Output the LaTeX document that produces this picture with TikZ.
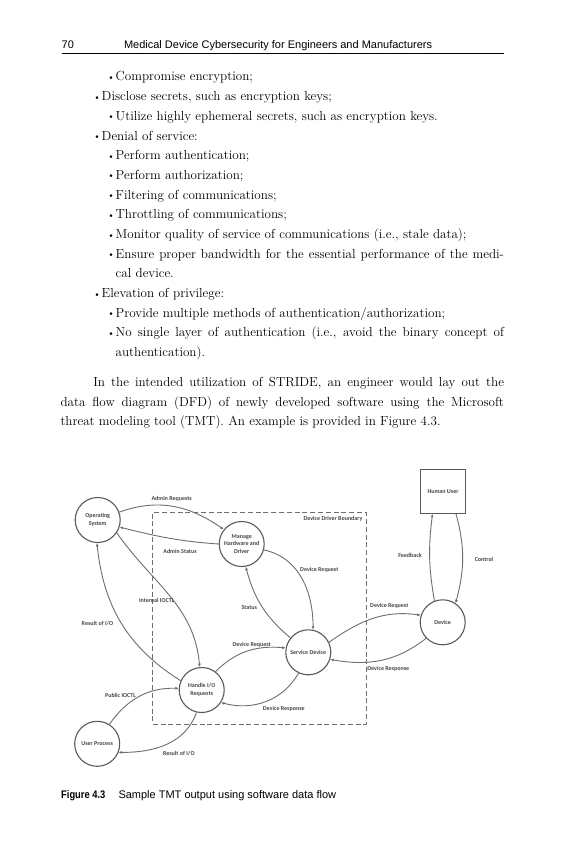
\documentclass[tikz,border=0pt]{standalone}
\usepackage{fontspec}
\newfontfamily\hdfont{Liberation Sans}
\newfontfamily\dfont{Carlito}
\usetikzlibrary{arrows.meta}
\definecolor{lg}{RGB}{110,110,110}
\definecolor{cg}{RGB}{90,90,90}
\definecolor{tg}{RGB}{70,70,70}
\newcommand{\mybul}{\makebox[8.4pt][l]{\raisebox{0.4pt}{\scalebox{0.75}{\textbullet}}}}
\tikzset{
  body/.style={anchor=base west, inner sep=0pt, outer sep=0pt, font=\fontsize{13.1}{15}\selectfont},
  head/.style={anchor=base west, inner sep=0pt, outer sep=0pt, font=\hdfont\fontsize{11}{13}\selectfont},
  proc/.style={circle, draw=cg, line width=1.1pt, minimum size=45pt, inner sep=0pt, align=center,
    font=\dfont\bfseries\fontsize{6}{7.3}\selectfont, text=tg},
  ext/.style={rectangle, draw=cg, line width=1.1pt, minimum width=44.3pt, minimum height=44pt, inner sep=0pt,
    align=center, font=\dfont\bfseries\fontsize{6}{7.3}\selectfont, text=tg},
  bound/.style={rectangle, draw=lg, line width=1pt, dash pattern=on 5pt off 2.8pt, inner sep=0pt},
  flow/.style={draw=lg, line width=0.9pt, -{Latex[length=3.4pt,width=3pt]}},
  lbl/.style={inner sep=0pt, font=\dfont\bfseries\fontsize{6}{7}\selectfont, text=tg}
}
\begin{document}
\begin{tikzpicture}[x=1pt,y=1pt]
\useasboundingbox (0,0) rectangle (576,-864);
\fill[white] (0,0) rectangle (576,-864);

% header
\node[head] (pg) at (61.7,-49) {70};
\node[head] (ttl) at (124,-49) {Medical Device Cybersecurity for Engineers and Manufacturers};
\draw[line width=0.8pt] (61.7,-53) -- (504,-53);

% body text
\node[body] (t1) at (107.3,-81) {\mybul Compromise encryption;};
\node[body] (t2) at (93.3,-100.7) {\mybul Disclose secrets, such as encryption keys;};
\node[body] (t3) at (107.3,-120.4) {\mybul Utilize highly ephemeral secrets, such as encryption keys.};
\node[body] (t4) at (93.3,-140) {\mybul Denial of service:};
\node[body] (t5) at (107.3,-159.7) {\mybul Perform authentication;};
\node[body] (t6) at (107.3,-179.4) {\mybul Perform authorization;};
\node[body] (t7) at (107.3,-199.1) {\mybul Filtering of communications;};
\node[body] (t8) at (107.3,-218.8) {\mybul Throttling of communications;};
\node[body] (t9) at (107.3,-238.4) {\mybul Monitor quality of service of communications (i.e., stale data);};
\node[body] (t10) at (107.3,-258.1) {\makebox[396.7pt][s]{\mybul Ensure proper bandwidth for the essential performance of the medi-}};
\node[body] (t11) at (115.7,-277.8) {cal device.};
\node[body] (t12) at (93.3,-297.5) {\mybul Elevation of privilege:};
\node[body] (t13) at (107.3,-317.2) {\mybul Provide multiple methods of authentication/authorization;};
\node[body] (t14) at (107.3,-336.8) {\makebox[396.7pt][s]{\mybul No single layer of authentication (i.e., avoid the binary concept of}};
\node[body] (t15) at (115.7,-356.5) {authentication).};
\node[body] (p1) at (93.3,-386.7) {\makebox[410.7pt][s]{In the intended utilization of STRIDE, an engineer would lay out the}};
\node[body] (p2) at (60.5,-406.1) {\makebox[443.5pt][s]{data flow diagram (DFD) of newly developed software using the Microsoft}};
\node[body] (p3) at (60.5,-425.5) {threat modeling tool (TMT). An example is provided in Figure 4.3.};

% diagram
\node[bound, minimum width=213.3pt, minimum height=211.7pt] (bnd) at (259.35,-618.15) {};
\node[proc] (os) at (97.7,-520) {Operating\\System};
\node[proc] (mhd) at (241.7,-544) {Manage\\Hardware and\\Driver};
\node[proc] (sd) at (308.3,-652.3) {Service Device};
\node[proc] (dev) at (442.7,-622.3) {Device};
\node[proc] (hio) at (201.7,-690) {Handle I/O\\Requests};
\node[proc] (up) at (97.2,-743.8) {User Process};
\node[ext] (hu) at (443,-491.3) {Human User};

\draw[flow] (os.20) to[out=20,in=145] (mhd.141);
\draw[flow] (mhd.180) to[out=176,in=-14] (os.-18);
\draw[flow] (os.-34) to[out=-55,in=95] (hio.95);
\draw[flow] (hio.156) to[out=148,in=-84] (os.-92);
\draw[flow] (sd.141) to[out=140,in=-75] (mhd.-80);
\draw[flow] (mhd.-15) to[out=-12,in=90] (sd.78);
\draw[flow] (sd.26) to[out=35,in=172] (dev.162);
\draw[flow] (dev.-136) to[out=-142,in=-10] (sd.-18);
\draw[flow] (dev.111) to[out=100,in=-97] (hu.-115);
\draw[flow] (hu.-60) to[out=-75,in=75] (dev.56);
\draw[flow] (hio.53) to[out=45,in=175] (sd.169);
\draw[flow] (sd.-115) to[out=-120,in=-15] (hio.-33);
\draw[flow] (up.58) to[out=55,in=178] (hio.176);
\draw[flow] (hio.-103) to[out=-110,in=0] (up.-22);

\node[lbl] (l1) at (171.7,-499.3) {Admin Requests};
\node[lbl] (l2) at (180,-551) {Admin Status};
\node[lbl] (l3) at (156.7,-600.7) {Internal IOCTL};
\node[lbl] (l4) at (97.5,-623.3) {Result of I/O};
\node[lbl] (l5) at (249.3,-607.7) {Status};
\node[lbl] (l6) at (319.3,-570) {Device Request};
\node[lbl] (l7) at (333,-518.7) {Device Driver Boundary};
\node[lbl] (l8) at (389.3,-605.7) {Device Request};
\node[lbl] (l9) at (388.3,-669) {Device Response};
\node[lbl] (l10) at (410,-555.7) {Feedback};
\node[lbl] (l11) at (484,-559) {Control};
\node[lbl] (l12) at (251.7,-645) {Device Request};
\node[lbl] (l13) at (283.8,-709.3) {Device Response};
\node[lbl] (l14) at (120.5,-695.7) {Public IOCTL};
\node[lbl] (l15) at (178.8,-754) {Result of I/O};

% caption
\node[anchor=base west, inner sep=0pt, font=\hdfont\bfseries\fontsize{11}{13}\selectfont] (cap1) at (61,-798) {\scalebox{0.85}[1]{Figure 4.3}};
\node[anchor=base west, inner sep=0pt, font=\hdfont\fontsize{11}{13}\selectfont] (cap2) at (118.3,-798) {Sample TMT output using software data flow};
\end{tikzpicture}
\end{document}
